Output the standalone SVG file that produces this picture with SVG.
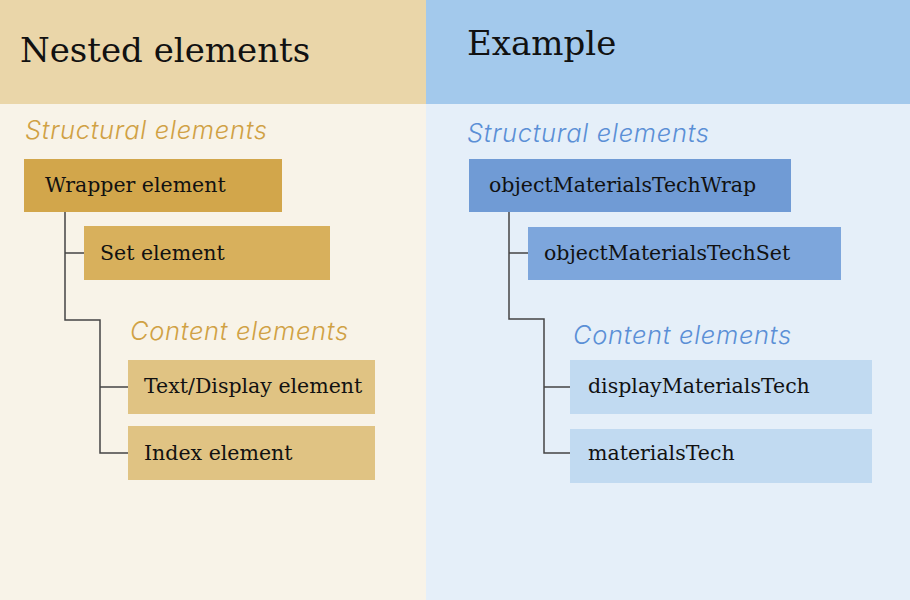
<svg xmlns="http://www.w3.org/2000/svg" width="910" height="600" viewBox="0 0 910 600">
<style>
.hd{font-family:"DejaVu Serif","Liberation Serif",serif;font-size:34px;fill:#111}
.bt{font-family:"DejaVu Serif","Liberation Serif",serif;font-size:20.5px;fill:#111}
.lbl{font-family:Inter,"Open Sans",sans-serif;font-style:italic;font-weight:300;font-size:25.5px;letter-spacing:0.7px}
.gold{fill:#D0A144}
.blue{fill:#5B8FD6}
.con{fill:none;stroke:#444;stroke-width:1.5}
</style>
<rect x="0" y="0" width="426" height="600" fill="#F8F3E8"/>
<rect x="426" y="0" width="484" height="600" fill="#E5EFF9"/>
<rect x="0" y="0" width="426" height="104" fill="#EAD6A9"/>
<rect x="426" y="0" width="484" height="104" fill="#A3C9EC"/>
<text class="hd" x="20" y="62">Nested elements</text>
<text class="hd" x="467" y="55">Example</text>
<text class="lbl gold" x="25" y="139">Structural elements</text>
<text class="lbl gold" x="130" y="340">Content elements</text>
<text class="lbl blue" x="467" y="142">Structural elements</text>
<text class="lbl blue" x="573" y="344">Content elements</text>
<g id="connectors">
<path class="con" d="M65 212 V320 H100 V453 H128 M65 253 H84 M100 387 H128"/>
<path class="con" d="M509 212 V319 H544 V453 H570 M509 253 H528 M544 387 H570"/>
</g>
<g id="wrapper"><rect x="24" y="159" width="258" height="53" fill="#D2A64B"/><text class="bt" x="45" y="192">Wrapper element</text></g>
<g id="set"><rect x="84" y="226" width="246" height="54" fill="#D8B05C"/><text class="bt" x="100" y="260">Set element</text></g>
<g id="display"><rect x="128" y="360" width="247" height="54" fill="#E0C383"/><text class="bt" x="144" y="393">Text/Display element</text></g>
<g id="index"><rect x="128" y="426" width="247" height="54" fill="#E0C383"/><text class="bt" x="144" y="460">Index element</text></g>
<g id="exWrap"><rect x="469" y="159" width="322" height="53" fill="#709BD5"/><text class="bt" x="489" y="192">objectMaterialsTechWrap</text></g>
<g id="exSet"><rect x="528" y="227" width="313" height="53" fill="#7DA6DC"/><text class="bt" x="544" y="260">objectMaterialsTechSet</text></g>
<g id="exDisplay"><rect x="570" y="360" width="302" height="54" fill="#C1DAF1"/><text class="bt" x="588" y="393">displayMaterialsTech</text></g>
<g id="exIndex"><rect x="570" y="429" width="302" height="54" fill="#C1DAF1"/><text class="bt" x="588" y="460">materialsTech</text></g>
</svg>
